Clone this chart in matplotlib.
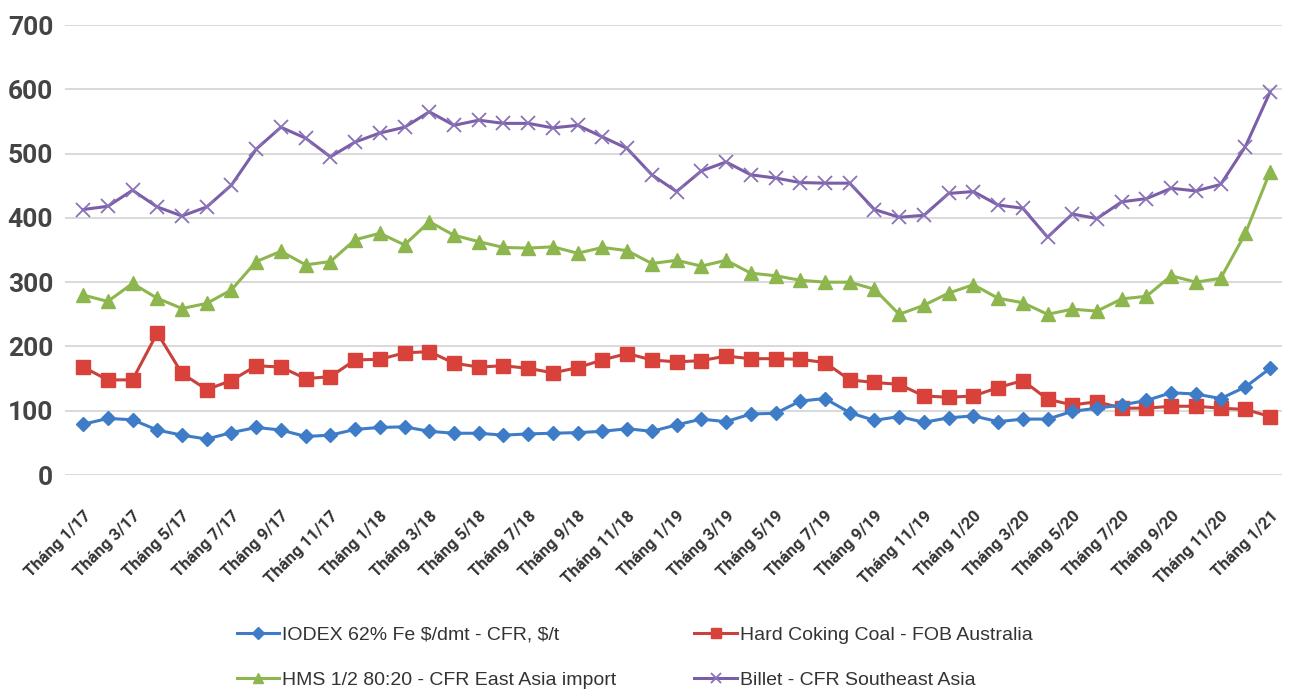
import matplotlib
matplotlib.use("Agg")
import matplotlib.pyplot as plt
import matplotlib.transforms as mtransforms
import numpy as np

# Monthly prices, Jan 2017 .. Jan 2021 (USD)
iodex = [79, 88, 86, 70, 62, 56, 66, 74, 70, 60, 62, 71, 74, 75, 68, 65, 65, 62, 64, 65,
         66, 68, 72, 68, 78, 87, 83, 95, 96, 115, 119, 97, 85, 91, 82, 89, 92, 83, 87, 87,
         99, 104, 109, 116, 128, 126, 119, 137, 166]
coking_coal = [168, 148, 148, 221, 158, 133, 147, 170, 168, 150, 153, 179, 180, 190, 192, 174,
               168, 170, 166, 159, 167, 179, 189, 179, 176, 178, 185, 181, 181, 180, 175, 148,
               144, 141, 123, 121, 123, 136, 147, 118, 109, 114, 104, 104, 107, 107, 104, 102, 91]
hms = [280, 270, 298, 275, 259, 267, 288, 332, 348, 327, 332, 366, 376, 358, 394, 373, 363,
       354, 353, 355, 345, 354, 349, 329, 334, 325, 334, 314, 310, 303, 300, 300, 289, 250,
       264, 283, 296, 275, 268, 250, 258, 255, 274, 278, 310, 300, 306, 376, 472]
billet = [413, 418, 443, 417, 403, 417, 451, 507, 541, 524, 495, 518, 532, 541, 565, 544,
          552, 547, 547, 540, 544, 526, 508, 467, 441, 473, 487, 467, 462, 455, 454, 454,
          413, 401, 404, 438, 441, 420, 415, 370, 406, 399, 425, 430, 446, 442, 452, 511, 596]

tick_labels = ["Tháng 1/17", "Tháng 3/17", "Tháng 5/17", "Tháng 7/17", "Tháng 9/17",
               "Tháng 11/17", "Tháng 1/18", "Tháng 3/18", "Tháng 5/18", "Tháng 7/18",
               "Tháng 9/18", "Tháng 11/18", "Tháng 1/19", "Tháng 3/19", "Tháng 5/19",
               "Tháng 7/19", "Tháng 9/19", "Tháng 11/19", "Tháng 1/20", "Tháng 3/20",
               "Tháng 5/20", "Tháng 7/20", "Tháng 9/20", "Tháng 11/20", "Tháng 1/21"]

series_names = [r"IODEX 62% Fe \$/dmt - CFR, \$/t", "Hard Coking Coal - FOB Australia",
                "HMS 1/2 80:20 - CFR East Asia import", "Billet - CFR Southeast Asia"]

x = np.arange(len(iodex))

fig = plt.figure(figsize=(12.9, 6.95), dpi=100)
ax = fig.add_axes([0.0504, 0.3165, 0.9434, 0.6475])

lw = 2.2
l1, = ax.plot(x, iodex, color="#3E7CC8", lw=lw, marker="D", ms=7.5, mec="#3E7CC8", zorder=5)
l2, = ax.plot(x, coking_coal, color="#C9413B", lw=lw, marker="s", ms=10.5,
              mfc="#D8423A", mec="#D8423A", zorder=4)
l3, = ax.plot(x, hms, color="#8DB64E", lw=lw, marker="^", ms=10.5, mec="#8DB64E", zorder=3)
l4, = ax.plot(x, billet, color="#7A5FA8", lw=lw, marker="x", ms=10, mew=1.3,
              mec="#8A72B8", zorder=3)

ax.set_ylim(0, 700)
ax.set_xlim(-0.73, 48.48)
ax.set_yticks(np.arange(0, 701, 100))
ax.set_xticks(x[::2])
ax.set_xticklabels(tick_labels, rotation=45, ha="right", va="top", rotation_mode="anchor",
                   fontsize=12, fontweight="bold", family=["Roboto", "DejaVu Sans"],
                   color="#333333")
shift = mtransforms.ScaledTranslation(8 / 100, 0, fig.dpi_scale_trans)
for lab in ax.get_xticklabels():
    lab.set_transform(lab.get_transform() + shift)
for lab in ax.get_yticklabels():
    lab.set_fontsize(19)
    lab.set_fontweight("semibold")
    lab.set_family(["Roboto", "DejaVu Sans"])
    lab.set_color("#444444")

ax.tick_params(axis="both", length=0)
ax.tick_params(axis="y", pad=8.5)
ax.tick_params(axis="x", pad=24)
ax.grid(axis="y", color="#D9D9D9", lw=1.4)
ax.set_axisbelow(True)
for s in ax.spines.values():
    s.set_visible(False)

# legend: two columns, filled column by column
leg = fig.legend([l1, l3, l2, l4], [series_names[0], series_names[2],
                                    series_names[1], series_names[3]],
                 ncol=2, loc="center left",
                 bbox_to_anchor=(219 / 1290, 1 - 657.5 / 695), frameon=False,
                 prop={"family": ["Liberation Sans", "DejaVu Sans"], "size": 14},
                 handlelength=2.2, handletextpad=0.15, columnspacing=4.0,
                 labelspacing=1.4, markerscale=0.75)
for t in leg.get_texts():
    t.set_color("#333333")

fig.savefig("out.png", dpi=100, facecolor="white")
